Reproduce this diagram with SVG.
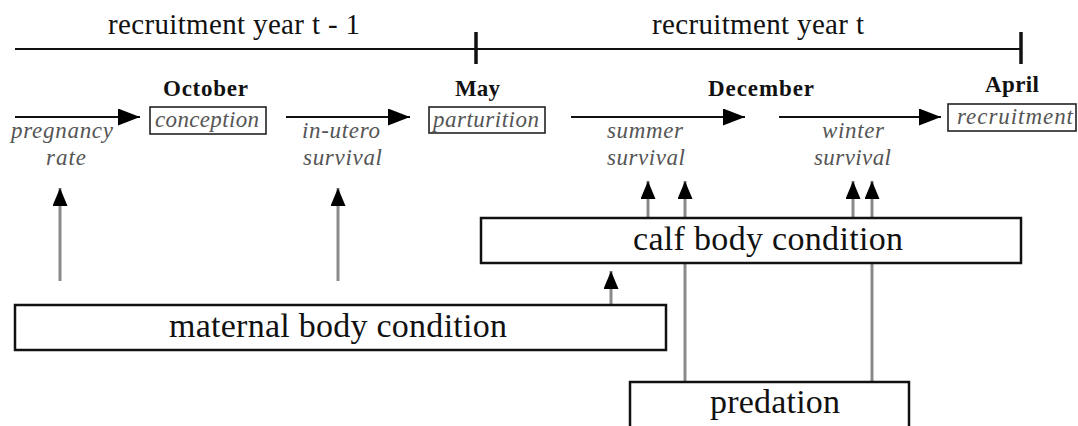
<svg xmlns="http://www.w3.org/2000/svg" width="1078" height="426" viewBox="0 0 1078 426">
<style>
text{font-family:"Liberation Serif","Times New Roman",serif}
.title{font-size:29px;fill:#111}
.month{font-size:23px;font-weight:bold;fill:#111}
.lab{font-size:23px;font-style:italic;fill:#555}
.big{font-size:34px;fill:#111}
.box{fill:#fff;stroke:#111;stroke-width:2.5}
.ibox{fill:#fff;stroke:#222;stroke-width:1.6}
.tl{stroke:#111;stroke-width:2;fill:none}
.tick{stroke:#111;stroke-width:3.5}
.ba{stroke:#111;stroke-width:2.2;fill:none}
.ga{stroke:#8a8a8a;stroke-width:3;fill:none}
</style>
<defs>
<marker id="hb" markerUnits="userSpaceOnUse" markerWidth="24" markerHeight="18" refX="22" refY="8.5" orient="auto"><path d="M0,0 L22,8.5 L0,17 Z" fill="#000"/></marker>
<marker id="hg" markerUnits="userSpaceOnUse" markerWidth="20" markerHeight="16" refX="18" refY="7.5" orient="auto"><path d="M0,0 L18,7.5 L0,15 Z" fill="#000"/></marker>
</defs>
<rect width="1078" height="426" fill="#fff"/>
<g id="timeline">
<line class="tl" x1="15" y1="49" x2="1021" y2="49"/>
<line class="tick" x1="476" y1="32" x2="476" y2="64"/>
<line class="tick" x1="1021" y1="32" x2="1021" y2="64"/>
<text class="title" x="108" y="34" textLength="252">recruitment year t - 1</text>
<text class="title" x="652" y="34" textLength="212">recruitment year t</text>
</g>
<g id="connectors">
<line class="ba" x1="15" y1="117" x2="140" y2="117" marker-end="url(#hb)"/>
<line class="ba" x1="286" y1="117" x2="410" y2="117" marker-end="url(#hb)"/>
<line class="ba" x1="571" y1="117" x2="745" y2="117" marker-end="url(#hb)"/>
<line class="ba" x1="779" y1="117" x2="941" y2="117" marker-end="url(#hb)"/>
<line class="ga" x1="60" y1="281" x2="60" y2="188" marker-end="url(#hg)"/>
<line class="ga" x1="338" y1="281" x2="338" y2="188" marker-end="url(#hg)"/>
<line class="ga" x1="611" y1="305" x2="611" y2="271" marker-end="url(#hg)"/>
<line class="ga" x1="648" y1="218" x2="648" y2="181" marker-end="url(#hg)"/>
<line class="ga" x1="685" y1="218" x2="685" y2="181" marker-end="url(#hg)"/>
<line class="ga" x1="853" y1="218" x2="853" y2="181" marker-end="url(#hg)"/>
<line class="ga" x1="872" y1="218" x2="872" y2="181" marker-end="url(#hg)"/>
<line class="ga" x1="685" y1="382" x2="685" y2="263"/>
<line class="ga" x1="872" y1="382" x2="872" y2="263"/>
</g>
<g id="pregnancy-rate">
<text class="lab" x="11" y="138" textLength="102">pregnancy</text>
<text class="lab" x="46" y="165" textLength="40">rate</text>
</g>
<g id="conception">
<text class="month" x="163" y="96" textLength="85">October</text>
<rect class="ibox" x="150" y="107" width="116" height="27"/>
<text class="lab" x="155" y="127" textLength="104">conception</text>
</g>
<g id="in-utero-survival">
<text class="lab" x="302" y="138" textLength="78">in-utero</text>
<text class="lab" x="303" y="165" textLength="79">survival</text>
</g>
<g id="parturition">
<text class="month" x="455" y="96" textLength="45">May</text>
<rect class="ibox" x="429" y="107" width="116" height="26"/>
<text class="lab" x="433" y="127" textLength="106">parturition</text>
</g>
<g id="summer-survival">
<text class="lab" x="607" y="138" textLength="76">summer</text>
<text class="lab" x="607" y="165" textLength="78">survival</text>
</g>
<g id="december">
<text class="month" x="708" y="96" textLength="106">December</text>
</g>
<g id="winter-survival">
<text class="lab" x="822" y="138" textLength="62">winter</text>
<text class="lab" x="814" y="165" textLength="77">survival</text>
</g>
<g id="recruitment">
<text class="month" x="985" y="92" textLength="54">April</text>
<rect class="ibox" x="948" y="104" width="128" height="27"/>
<text class="lab" x="957" y="124" textLength="116">recruitment</text>
</g>
<g id="calf-body-condition">
<rect class="box" x="481" y="218" width="540" height="45"/>
<text class="big" x="633" y="250" textLength="270">calf body condition</text>
</g>
<g id="maternal-body-condition">
<rect class="box" x="15" y="305" width="651" height="45"/>
<text class="big" x="169" y="337" textLength="338">maternal body condition</text>
</g>
<g id="predation">
<rect class="box" x="630" y="382" width="279" height="60"/>
<text class="big" x="710" y="413" textLength="130">predation</text>
</g>
</svg>
